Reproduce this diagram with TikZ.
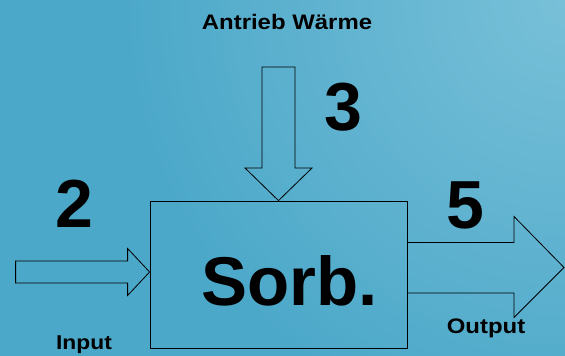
\documentclass[tikz,border=0pt]{standalone}
\usepackage{fontspec}
\setmainfont{Liberation Sans}
\newfontfamily\labelfont[FakeStretch=1.14]{Liberation Sans}
\usetikzlibrary{positioning,calc}
\definecolor{bgblue}{RGB}{76,168,201}
\definecolor{bglight}{RGB}{120,192,216}

\begin{document}
\begin{tikzpicture}[x=1pt, y=-1pt,
    box/.style={draw, line width=0.8pt, inner sep=0pt, minimum width=257, minimum height=147},
    flow/.style={draw, line width=0.8pt, line join=miter},
    label/.style={font=\fontsize{21}{21}\selectfont\labelfont\bfseries, anchor=base, inner sep=0pt},
    num/.style={font=\fontsize{68}{68}\selectfont\bfseries, anchor=base, inner sep=0pt}
]

% Background
\useasboundingbox (0,0) rectangle (565,356);
\fill[bgblue] (0,0) rectangle (565,356);
\begin{scope}
\clip (0,0) rectangle (565,356);
\shade[inner color=bglight, outer color=bgblue] (565,0) circle (440);
\end{scope}

% Title
\node[label] (heatlabel) at (287,29) {Antrieb Wärme};

% Sorption block
\node[box] (sorb) at (278.5,274.5) {};
\node[num, font=\fontsize{69}{69}\selectfont\bfseries] (sorbtext) at (289.5,305) {Sorb.};

% Numbers
\node[num] (n3) at (343,130) {3};
\node[num] (n2) at (74,227) {2};
\node[num] (n5) at (465,228) {5};

% Drive heat arrow
\coordinate (heat) at (278.5,67);
\draw[flow] ($(heat)+(-16.5,0)$) -- ($(heat)+(16.5,0)$) -- ($(heat)+(16.5,101)$)
    -- ($(heat)+(33.5,101)$) -- (sorb.north) -- ($(heat)+(-33.5,101)$)
    -- ($(heat)+(-16.5,101)$) -- cycle;

% Input arrow
\coordinate (in) at ($(sorb.west)+(0,-2.5)$);
\draw[flow] ($(in)+(-134,-11)$) -- ($(in)+(-22,-11)$) -- ($(in)+(-22,-23.5)$)
    -- (in) -- ($(in)+(-22,23.5)$) -- ($(in)+(-22,11)$) -- ($(in)+(-134,11)$) -- cycle;

% Output arrow
\coordinate (out) at (564,267.5);
\draw[flow] ($(sorb.east |- out)+(0,-25)$) -- ($(out)+(-50,-25)$) -- ($(out)+(-50,-51)$)
    -- (out) -- ($(out)+(-50,50)$) -- ($(out)+(-50,25.5)$) -- ($(sorb.east |- out)+(0,25.5)$);

% Labels
\node[label, font=\fontsize{20}{20}\selectfont\labelfont\bfseries] (input) at (84,349) {Input};
\node[label] (output) at (486,333) {Output};

\end{tikzpicture}
\end{document}
